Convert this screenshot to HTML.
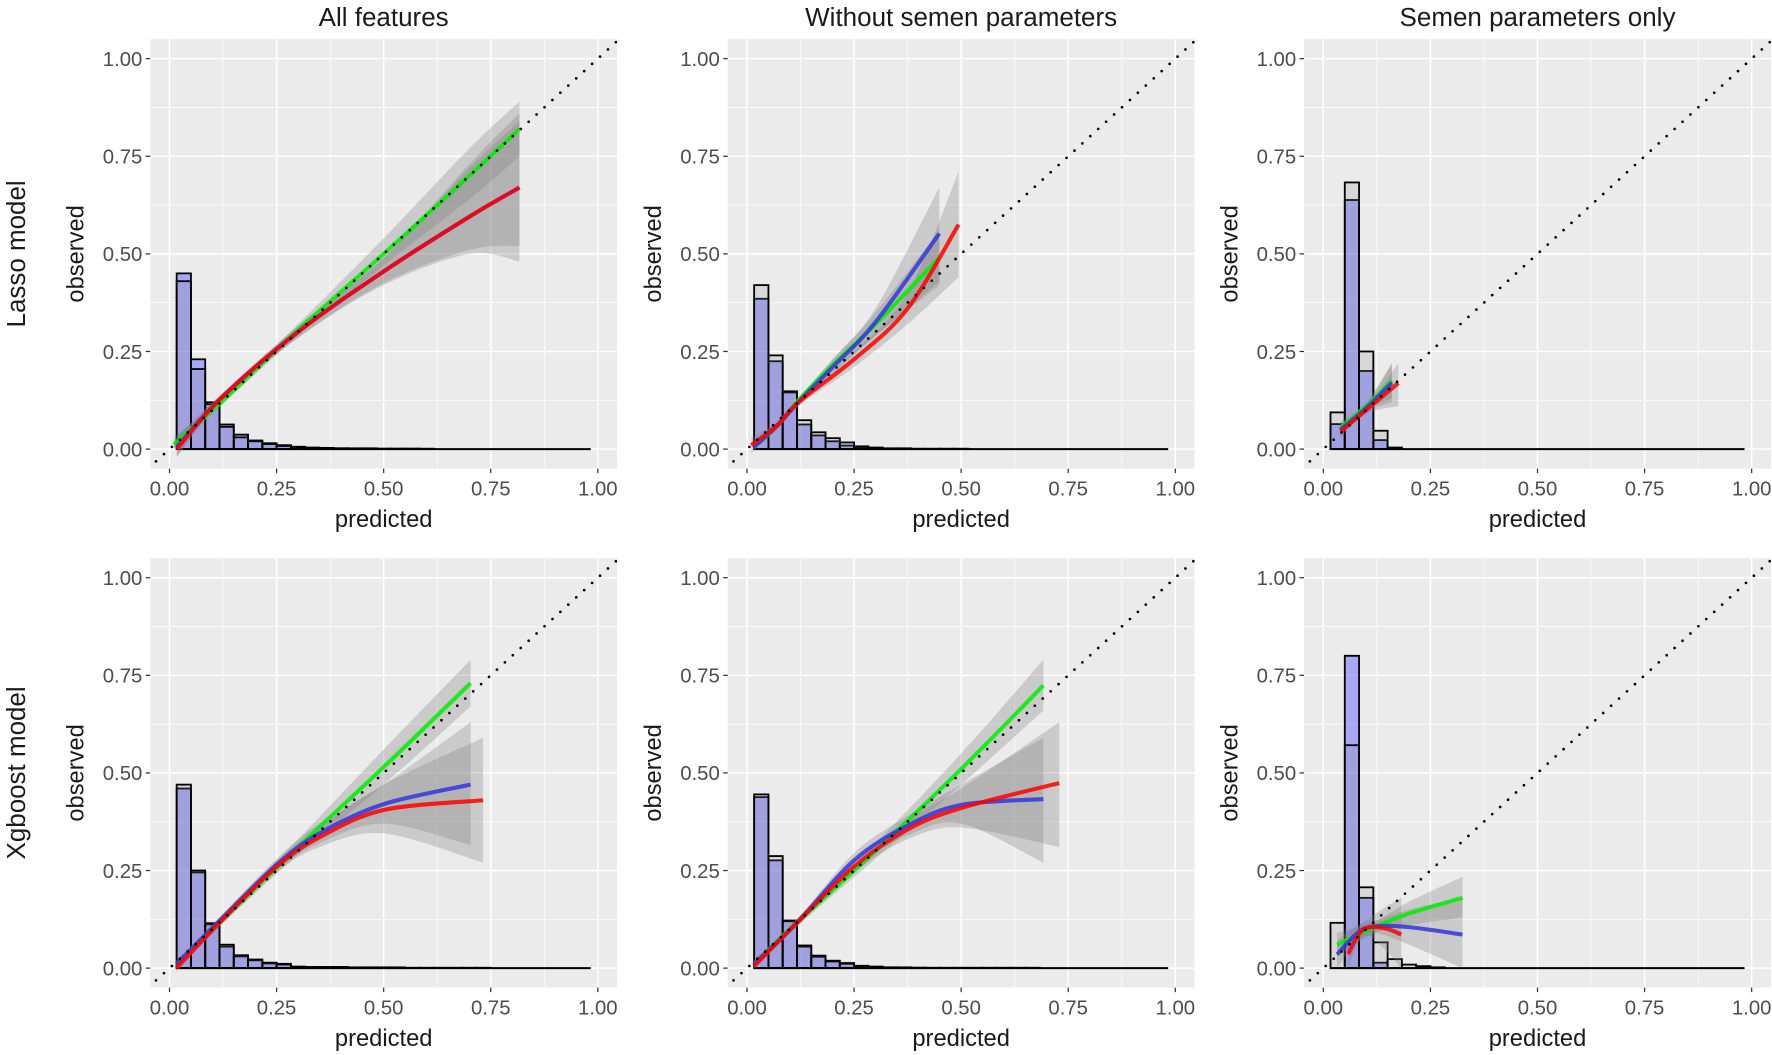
<!DOCTYPE html>
<html><head><meta charset="utf-8"><style>
html,body{margin:0;padding:0;background:#fff;}
svg{display:block;font-family:"Liberation Sans",Arial,sans-serif;}
</style></head><body>
<svg id="fig" width="1772" height="1055" viewBox="0 0 1568 935" preserveAspectRatio="none" xmlns="http://www.w3.org/2000/svg"></svg>
<script>
// ---------- data ----------
const columnTitles = ["All features", "Without semen parameters", "Semen parameters only"];
const rowTitles = ["Lasso model", "Xgboost model"];
const tickValues = [0, 0.25, 0.5, 0.75, 1];
const tickLabels = ["0.00", "0.25", "0.50", "0.75", "1.00"];
const binStart = 0.0167;
const binWidth = 1 / 30;

// histograms (bin heights)
const gray11 = [0.43,0.205,0.115,0.057,0.03,0.02,0.013,0.008,0.005,0.003,0.002,0.002,0.001,0.001,0.001,0.001,0.001,0,0,0,0,0,0,0,0,0,0,0,0];
const blue11 = [0.45,0.23,0.12,0.063,0.037,0.022,0.015,0.01,0.006,0.004,0.003,0.002,0.002,0.002,0.001,0.001,0.001,0.001,0,0,0,0,0,0,0,0,0,0,0];
const gray12 = [0.42,0.24,0.148,0.074,0.043,0.028,0.017,0.007,0.004,0.002,0.002,0.001,0.001,0.001,0.001,0,0,0,0,0,0,0,0,0,0,0,0,0,0];
const blue12 = [0.385,0.225,0.145,0.063,0.035,0.02,0.009,0.005,0.003,0.001,0.001,0,0,0,0,0,0,0,0,0,0,0,0,0,0,0,0,0,0];
const gray13 = [0.094,0.683,0.25,0.047,0.004,0,0,0,0,0,0,0,0,0,0,0,0,0,0,0,0,0,0,0,0,0,0,0,0];
const blue13 = [0.064,0.638,0.2,0.023,0.002,0,0,0,0,0,0,0,0,0,0,0,0,0,0,0,0,0,0,0,0,0,0,0,0];
const gray21 = [0.47,0.25,0.115,0.06,0.033,0.022,0.014,0.011,0.004,0.003,0.003,0.003,0.002,0.002,0.002,0.002,0.001,0.001,0.001,0.001,0.001,0.001,0,0,0,0,0,0,0];
const blue21 = [0.46,0.245,0.112,0.055,0.03,0.02,0.012,0.009,0.003,0.002,0.002,0.002,0.001,0.001,0.001,0.001,0,0,0,0,0,0,0,0,0,0,0,0,0];
const gray22 = [0.445,0.287,0.122,0.058,0.032,0.019,0.013,0.006,0.004,0.002,0.002,0.001,0.001,0.001,0.001,0.001,0.001,0.001,0.001,0.001,0,0,0,0,0,0,0,0,0];
const blue22 = [0.438,0.276,0.12,0.055,0.029,0.017,0.011,0.005,0.003,0.002,0.001,0.001,0,0,0,0,0,0,0,0,0,0,0,0,0,0,0,0,0];
const gray23 = [0.116,0.571,0.207,0.066,0.023,0.009,0.005,0.002,0,0,0,0,0,0,0,0,0,0,0,0,0,0,0,0,0,0,0,0,0];
const blue23 = [0,0.8,0.18,0.014,0,0,0,0,0,0,0,0,0,0,0,0,0,0,0,0,0,0,0,0,0,0,0,0,0];

// calibration curves: [predicted, observed, lower, upper]
const green11 = [[0.01,0.012,0.0,0.03],[0.12,0.12,0.11,0.13],[0.3,0.305,0.29,0.32],[0.5,0.5,0.47,0.54],[0.7,0.7,0.64,0.77],[0.817,0.82,0.75,0.89]];
const bluec11 = [[0.017,0.005,-0.02,0.03],[0.12,0.13,0.12,0.14],[0.3,0.3,0.285,0.315],[0.5,0.455,0.425,0.49],[0.7,0.595,0.51,0.72],[0.817,0.67,0.52,0.84]];
const red11 = [[0.017,0.0,-0.02,0.03],[0.12,0.13,0.12,0.14],[0.3,0.3,0.285,0.315],[0.5,0.455,0.42,0.49],[0.7,0.595,0.5,0.73],[0.817,0.67,0.48,0.86]];
const green12 = [[0.016,0.005,0,0.02],[0.07,0.06,0.05,0.07],[0.12,0.125,0.12,0.13],[0.2,0.215,0.2,0.23],[0.3,0.32,0.29,0.35],[0.449,0.49,0.43,0.56]];
const bluec12 = [[0.016,0.005,0,0.02],[0.07,0.06,0.05,0.07],[0.12,0.12,0.11,0.13],[0.2,0.21,0.19,0.23],[0.3,0.325,0.29,0.36],[0.449,0.552,0.42,0.67]];
const red12 = [[0.01,0.01,-0.01,0.03],[0.07,0.06,0.05,0.07],[0.12,0.12,0.11,0.13],[0.25,0.23,0.21,0.25],[0.375,0.36,0.32,0.4],[0.494,0.575,0.44,0.71]];
const green13 = [[0.04,0.055,0.04,0.07],[0.1,0.11,0.1,0.12],[0.16,0.175,0.13,0.22]];
const bluec13 = [[0.04,0.05,0.035,0.065],[0.1,0.105,0.095,0.115],[0.16,0.17,0.12,0.22]];
const red13 = [[0.04,0.045,0.03,0.06],[0.1,0.1,0.09,0.11],[0.175,0.169,0.11,0.22]];
const green21 = [[0.016,0.01,0,0.02],[0.12,0.12,0.11,0.13],[0.3,0.31,0.29,0.33],[0.5,0.515,0.47,0.56],[0.703,0.73,0.67,0.79]];
const bluec21 = [[0.016,0.01,0,0.02],[0.12,0.125,0.115,0.135],[0.25,0.265,0.25,0.28],[0.35,0.345,0.32,0.37],[0.5,0.42,0.37,0.47],[0.703,0.47,0.315,0.63]];
const red21 = [[0.016,0.0,-0.01,0.015],[0.12,0.12,0.11,0.13],[0.25,0.26,0.245,0.275],[0.35,0.335,0.31,0.36],[0.5,0.405,0.345,0.47],[0.732,0.43,0.27,0.59]];
const green22 = [[0.016,0.01,0,0.02],[0.12,0.12,0.11,0.13],[0.3,0.3,0.28,0.32],[0.5,0.51,0.47,0.55],[0.692,0.724,0.66,0.79]];
const bluec22 = [[0.016,0.01,0,0.02],[0.12,0.12,0.11,0.13],[0.25,0.276,0.255,0.295],[0.375,0.365,0.34,0.39],[0.5,0.418,0.37,0.47],[0.692,0.433,0.27,0.59]];
const red22 = [[0.016,0.005,-0.005,0.015],[0.12,0.12,0.11,0.13],[0.25,0.26,0.245,0.275],[0.375,0.355,0.33,0.38],[0.5,0.41,0.36,0.46],[0.729,0.474,0.31,0.63]];
const green23 = [[0.032,0.06,0.03,0.09],[0.12,0.105,0.09,0.12],[0.2,0.14,0.11,0.17],[0.325,0.18,0.13,0.234]];
const bluec23 = [[0.032,0.035,0.0,0.07],[0.08,0.09,0.07,0.11],[0.12,0.107,0.09,0.12],[0.2,0.105,0.06,0.15],[0.325,0.086,0.0,0.18]];
const red23 = [[0.058,0.036,0.0,0.07],[0.085,0.09,0.07,0.11],[0.11,0.105,0.08,0.13],[0.15,0.1,0.04,0.16],[0.182,0.086,0.0,0.18]];

const panels = [
  [{g:gray11,b:blue11,c:[green11,bluec11,red11]},{g:gray12,b:blue12,c:[green12,bluec12,red12]},{g:gray13,b:blue13,c:[green13,bluec13,red13]}],
  [{g:gray21,b:blue21,c:[green21,bluec21,red21]},{g:gray22,b:blue22,c:[green22,bluec22,red22]},{g:gray23,b:blue23,c:[green23,bluec23,red23]}]
];

// ---------- layout ----------
const NS = "http://www.w3.org/2000/svg";
const svg = document.getElementById("fig");
const colX0 = [150, 661, 1171];
const rowY0 = [398, 858];
const SX = 379, SY = 346;
const curveColors = ["#00ee00", "#3535dd", "#ff0000"];
const curveNames = ["green", "blue", "red"];

function el(tag, attrs, parent) {
  const e = document.createElementNS(NS, tag);
  for (const k in attrs) e.setAttribute(k, attrs[k]);
  (parent || svg).appendChild(e);
  return e;
}
function smooth(pts) {
  if (pts.length < 2) return "";
  let d = "M" + pts[0][0] + "," + pts[0][1];
  for (let i = 0; i < pts.length - 1; i++) {
    const p0 = pts[Math.max(0, i - 1)], p1 = pts[i], p2 = pts[i + 1], p3 = pts[Math.min(pts.length - 1, i + 2)];
    const c1x = p1[0] + (p2[0] - p0[0]) / 6, c1y = p1[1] + (p2[1] - p0[1]) / 6;
    const c2x = p2[0] - (p3[0] - p1[0]) / 6, c2y = p2[1] - (p3[1] - p1[1]) / 6;
    d += " C" + c1x + "," + c1y + " " + c2x + "," + c2y + " " + p2[0] + "," + p2[1];
  }
  return d;
}

for (let c = 0; c < 3; c++) {
  const t = el("text", {x: colX0[c] + 0.5 * SX, y: 23, "text-anchor": "middle", "font-size": 23, fill: "#1a1a1a"});
  
  
  t.textContent = columnTitles[c];
}
for (let r = 0; r < 2; r++) {
  const cy = rowY0[r] - 0.5 * SY;
  const t = el("text", {x: 0, y: 0, transform: "translate(22," + cy + ") rotate(-90)", "text-anchor": "middle", "font-size": 23, fill: "#1a1a1a"});
  
  
  t.textContent = rowTitles[r];
}

for (let r = 0; r < 2; r++) for (let c = 0; c < 3; c++) {
  const x0 = colX0[c], y0 = rowY0[r];
  const X = v => x0 + v * SX;
  const Y = v => y0 - v * SY;
  const P = panels[r][c];
  const g = el("g", {});
  
  
  const clipId = "clip" + r + c;
  const cp = el("clipPath", {id: clipId}, g);
  el("rect", {x: X(-0.045), y: Y(1.05), width: 1.09 * SX, height: 1.1 * SY}, cp);
  const bg = el("rect", {x: X(-0.045), y: Y(1.05), width: 1.09 * SX, height: 1.1 * SY, fill: "#ebebeb"}, g);
  
  
  for (let i = 0; i < 4; i++) {
    const m = tickValues[i] + 0.125;
    el("line", {x1: X(m), x2: X(m), y1: Y(-0.05), y2: Y(1.05), stroke: "#fff", "stroke-width": 0.6}, g);
    el("line", {x1: X(-0.045), x2: X(1.045), y1: Y(m), y2: Y(m), stroke: "#fff", "stroke-width": 0.6}, g);
  }
  for (let i = 0; i < tickValues.length; i++) {
    const v = tickValues[i];
    el("line", {x1: X(v), x2: X(v), y1: Y(-0.05), y2: Y(1.05), stroke: "#fff", "stroke-width": 1.3}, g);
    el("line", {x1: X(-0.045), x2: X(1.045), y1: Y(v), y2: Y(v), stroke: "#fff", "stroke-width": 1.3}, g);
    el("line", {x1: X(v), x2: X(v), y1: Y(-0.05), y2: Y(-0.05) + 4, stroke: "#333", "stroke-width": 1.1}, g);
    el("line", {x1: X(-0.045), x2: X(-0.045) - 4, y1: Y(v), y2: Y(v), stroke: "#333", "stroke-width": 1.1}, g);
    const xt = el("text", {x: X(v), y: Y(-0.05) + 24, "text-anchor": "middle", "font-size": 18, fill: "#4d4d4d"}, g);
    
    
    xt.textContent = tickLabels[i];
    const yt = el("text", {x: X(-0.045) - 7, y: Y(v) + 6.5, "text-anchor": "end", "font-size": 18, fill: "#4d4d4d"}, g);
    
    
    yt.textContent = tickLabels[i];
  }
  const xtitle = el("text", {x: X(0.5), y: y0 + 69, "text-anchor": "middle", "font-size": 21, fill: "#1a1a1a"}, g);
  
  
  xtitle.textContent = "predicted";
  const ytitle = el("text", {x: 0, y: 0, transform: "translate(" + (x0 - 76) + "," + Y(0.5) + ") rotate(-90)", "text-anchor": "middle", "font-size": 21, fill: "#1a1a1a"}, g);
  
  
  ytitle.textContent = "observed";
  const plot = el("g", {"clip-path": "url(#" + clipId + ")"}, g);
  const hists = [[P.b, "#5555ff", 0.45, "blue-histogram-bar"], [P.g, "#888888", 0.2, "gray-histogram-bar"]];
  for (const h of hists) {
    for (let i = 0; i < h[0].length; i++) {
      if (h[0][i] <= 0) continue;
      const a = binStart + i * binWidth;
      const rr = el("rect", {x: X(a), y: Y(h[0][i]), width: binWidth * SX, height: h[0][i] * SY, fill: h[1], "fill-opacity": h[2], stroke: "#000", "stroke-width": 1.6}, plot);
      
      
    }
  }
  const base = el("line", {x1: X(binStart), x2: X(binStart + gray11.length * binWidth), y1: Y(0), y2: Y(0), stroke: "#000", "stroke-width": 1.8}, plot);
  
  
  for (let k = 0; k < 3; k++) {
    const cv = P.c[k];
    const up = cv.map(p => [X(p[0]), Y(p[3])]);
    const lo = cv.map(p => [X(p[0]), Y(p[2])]).reverse();
    const d = smooth(up) + " L" + lo[0][0] + "," + lo[0][1] + smooth(lo).replace(/^M[^C]*/, " ") + " Z";
    const rb = el("path", {d: d, fill: "#7f7f7f", "fill-opacity": 0.3}, plot);
    
    
  }
  for (let k = 0; k < 3; k++) {
    const cv = P.c[k];
    const ln = el("path", {d: smooth(cv.map(p => [X(p[0]), Y(p[1])])), fill: "none", stroke: curveColors[k], "stroke-width": 3.6, "stroke-opacity": 0.85}, plot);
    
    
  }
  const diag = el("line", {x1: X(-0.05), y1: Y(-0.05), x2: X(1.06), y2: Y(1.06), stroke: "#000", "stroke-width": 2.4, "stroke-linecap": "round", "stroke-dasharray": "0 9.5"}, plot);
  
  
}
</script>
</body></html>
